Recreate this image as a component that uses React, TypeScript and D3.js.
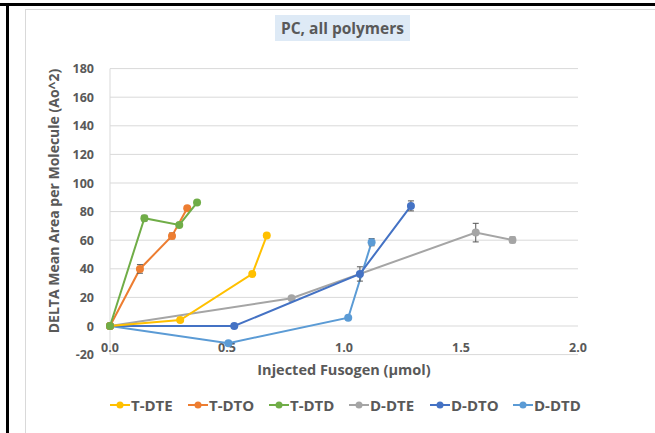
import React from "react";
import * as d3 from "d3";

const seriesNames = ["T-DTE", "T-DTO", "T-DTD", "D-DTE", "D-DTO", "D-DTD"];
const seriesColors = ["#FFC000", "#ED7D31", "#70AD47", "#A5A5A5", "#4472C4", "#5B9BD5"];

const tdteX = [0, 0.30, 0.608, 0.67];
const tdteY = [0, 4.2, 36.4, 63.2];
const tdteErr = [0, 1, 1, 1];

const tdtoX = [0, 0.128, 0.265, 0.33];
const tdtoY = [0, 39.9, 63, 82.4];
const tdtoErr = [0, 3, 2, 1];

const tdtdX = [0, 0.147, 0.296, 0.372];
const tdtdY = [0, 75.4, 70.7, 86.3];
const tdtdErr = [0, 2, 1, 1];

const ddteX = [0, 0.776, 1.563, 1.72];
const ddteY = [0, 19.4, 65.3, 60.2];
const ddteErr = [0, 1, 6.5, 2];

const ddtoX = [0, 0.531, 1.068, 1.286];
const ddtoY = [0, 0, 36.4, 84];
const ddtoErr = [0, 0, 5, 3.5];

const ddtdX = [0, 0.506, 1.018, 1.118];
const ddtdY = [0, -12, 5.8, 58.6];
const ddtdErr = [0, 0, 0, 2.5];

const xTicks = [0, 0.5, 1.0, 1.5, 2.0];
const yTicks = [-20, 0, 20, 40, 60, 80, 100, 120, 140, 160, 180];

const title = "PC, all polymers";
const xTitle = "Injected Fusogen (µmol)";
const yTitle = "DELTA Mean Area per Molecule (Ao^2)";

const allX = [tdteX, tdtoX, tdtdX, ddteX, ddtoX, ddtdX];
const allY = [tdteY, tdtoY, tdtdY, ddteY, ddtoY, ddtdY];
const allErr = [tdteErr, tdtoErr, tdtdErr, ddteErr, ddtoErr, ddtdErr];

const legendX = [110, 188, 269, 349, 430, 513];

export default function App() {
  const left = 110, right = 578, top = 68.6, bottom = 354.6;
  const x = d3.scaleLinear().domain([0, 2]).range([left, right]);
  const y = d3.scaleLinear().domain([-20, 180]).range([bottom, top]);
  const font = "'Open Sans', 'Noto Sans', sans-serif";
  const textColor = "#595959";
  const line = d3.line<[number, number]>().x(d => x(d[0])).y(d => y(d[1]));
  const order = [3, 5, 4, 0, 1, 2];
  return (
    <svg width={655} height={433} style={{ position: "absolute", left: 0, top: 0, background: "#fff" }} fontFamily={font}>
      <rect x={0} y={0} width={655} height={433} fill="#fff" />
      <rect x={25.5} y={9.5} width={700} height={500} fill="#fff" stroke="#d9d9d9" strokeWidth={1} />
      <rect x={0} y={3} width={655} height={3} fill="#000" />
      <rect x={6} y={3} width={3} height={430} fill="#000" />
      <rect x={275} y={15} width={135} height={26} fill="#DEEAF6" />
      <text x={342.5} y={33.5} textAnchor="middle" fontSize={15.5} fontWeight="bold" fill={textColor}>{title}</text>
      {yTicks.map(t => (
        <line key={"g" + t} x1={left} x2={right} y1={y(t)} y2={y(t)} stroke="#d9d9d9" strokeWidth={1} />
      ))}
      <line x1={left} x2={left} y1={top} y2={bottom} stroke="#d9d9d9" strokeWidth={1} />
      {yTicks.map(t => (
        <text key={"yl" + t} x={94} y={y(t) + 4.5} textAnchor="end" fontSize={12.5} fontWeight="bold" fill={textColor}>{t}</text>
      ))}
      {xTicks.map(t => (
        <text key={"xl" + t} x={x(t)} y={351.5} textAnchor="middle" fontSize={12.5} fontWeight="bold" fill={textColor}>{t.toFixed(1)}</text>
      ))}
      <text x={344} y={375} textAnchor="middle" fontSize={14.5} fontWeight="bold" fill={textColor}>{xTitle}</text>
      <text transform={`translate(59,${201}) rotate(-90)`} textAnchor="middle" fontSize={14} fontWeight="bold" fill={textColor}>{yTitle}</text>
      {order.map(i => {
        const pts: [number, number][] = allX[i].map((xv, j) => [xv, allY[i][j]]);
        return (
          <g key={"s" + i}>
            <path d={line(pts) || ""} fill="none" stroke={seriesColors[i]} strokeWidth={2} />
            {pts.map((p, j) => {
              const e = allErr[i][j];
              return e > 0 ? (
                <g key={"e" + j} stroke="#555" strokeWidth={1}>
                  <line x1={x(p[0])} x2={x(p[0])} y1={y(p[1] - e)} y2={y(p[1] + e)} />
                  <line x1={x(p[0]) - 3} x2={x(p[0]) + 3} y1={y(p[1] - e)} y2={y(p[1] - e)} />
                  <line x1={x(p[0]) - 3} x2={x(p[0]) + 3} y1={y(p[1] + e)} y2={y(p[1] + e)} />
                </g>
              ) : null;
            })}
            {pts.map((p, j) => (
              <circle key={"c" + j} cx={x(p[0])} cy={y(p[1])} r={4} fill={seriesColors[i]} />
            ))}
          </g>
        );
      })}
      {seriesNames.map((n, i) => (
        <g key={"lg" + i}>
          <line x1={legendX[i]} x2={legendX[i] + 20} y1={405} y2={405} stroke={seriesColors[i]} strokeWidth={2} />
          <circle cx={legendX[i] + 10} cy={405} r={3.5} fill={seriesColors[i]} />
          <text x={legendX[i] + 21} y={410.5} fontSize={15} fontWeight="bold" fill={textColor}>{n}</text>
        </g>
      ))}
    </svg>
  );
}
